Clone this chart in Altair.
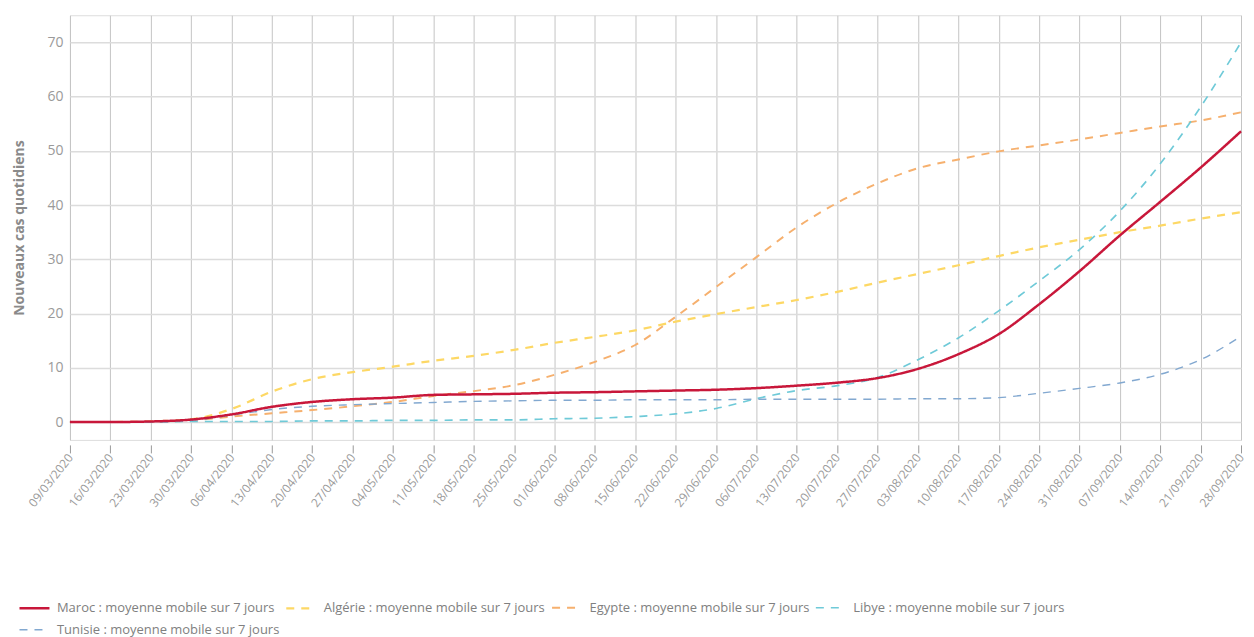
import altair as alt
import pandas as pd

dates = ["09/03/2020","16/03/2020","23/03/2020","30/03/2020","06/04/2020","13/04/2020",
         "20/04/2020","27/04/2020","04/05/2020","11/05/2020","18/05/2020","25/05/2020",
         "01/06/2020","08/06/2020","15/06/2020","22/06/2020","29/06/2020","06/07/2020",
         "13/07/2020","20/07/2020","27/07/2020","03/08/2020","10/08/2020","17/08/2020",
         "24/08/2020","31/08/2020","07/09/2020","14/09/2020","21/09/2020","28/09/2020"]

maroc = [0, 0, 0.1, 0.45, 1.4, 2.8, 3.7, 4.2, 4.5, 5.0, 5.1, 5.2, 5.4, 5.5, 5.65, 5.8,
         5.95, 6.25, 6.7, 7.25, 8.1, 9.8, 12.5, 16.2, 21.7, 27.8, 34.4, 40.6, 46.9, 53.6]
algerie = [0, 0, 0.1, 0.5, 2.4, 5.6, 7.9, 9.2, 10.2, 11.3, 12.2, 13.3, 14.6, 15.7, 16.9,
           18.5, 19.9, 21.2, 22.5, 24.0, 25.7, 27.3, 28.9, 30.6, 32.2, 33.6, 35.0, 36.2, 37.5, 38.7]
egypte = [0, 0, 0, 0.3, 1.0, 1.6, 2.2, 2.9, 3.7, 4.8, 5.7, 6.8, 8.7, 11.1, 14.2, 19.4,
          24.9, 30.4, 35.9, 40.4, 44.0, 46.8, 48.4, 49.9, 51.0, 52.1, 53.3, 54.5, 55.6, 57.1]
libye = [0, 0, 0, 0.1, 0.1, 0.1, 0.2, 0.2, 0.3, 0.3, 0.4, 0.4, 0.6, 0.7, 1.0, 1.5,
         2.5, 4.3, 5.8, 6.7, 8.2, 11.5, 15.5, 20.5, 26.0, 31.8, 38.9, 47.6, 58.1, 70.0]
tunisie = [0, 0, 0, 0.3, 1.25, 2.3, 2.9, 3.2, 3.4, 3.6, 3.8, 3.9, 4.0, 4.0, 4.1, 4.1,
           4.1, 4.2, 4.2, 4.2, 4.2, 4.3, 4.3, 4.5, 5.3, 6.2, 7.2, 8.8, 11.5, 15.8]

series_names = ["Maroc : moyenne mobile sur 7 jours",
                "Algérie : moyenne mobile sur 7 jours",
                "Egypte : moyenne mobile sur 7 jours",
                "Libye : moyenne mobile sur 7 jours",
                "Tunisie : moyenne mobile sur 7 jours"]
series_values = [maroc, algerie, egypte, libye, tunisie]
colors = ["#c8173a", "#fdd865", "#f6b06e", "#6fcad8", "#82a8d0"]
dashes = [[1, 0], [8, 7], [8, 7], [8, 7], [8, 7]]
widths = [2.5, 1.4, 1.4, 1.4, 1.4]

rows = []
for name, vals in zip(series_names, series_values):
    for d, v in zip(dates, vals):
        rows.append({"date": d, "serie": name, "value": v})
df = pd.DataFrame(rows)

color_scale = alt.Scale(domain=series_names, range=colors)
dash_scale = alt.Scale(domain=series_names, range=dashes)

x_enc = alt.X("date:N", sort=dates, scale=alt.Scale(padding=0),
              axis=alt.Axis(title=None, labelAngle=308, grid=True, gridColor="#c4c4c4",
                            gridWidth=1, ticks=True, tickColor="#999", tickSize=8,
                            offset=5, domain=False, labelFontSize=12, labelColor="#9a9a9a",
                            labelPadding=2))
y_enc = alt.Y("value:Q", scale=alt.Scale(domain=[-3.3, 75], nice=False, zero=False),
              axis=alt.Axis(title="Nouveaux cas quotidiens", values=[0, 10, 20, 30, 40, 50, 60, 70],
                            ticks=False, domain=False, gridColor="#dcdcdc", gridWidth=1.5,
                            labelFontSize=14, labelColor="#9a9a9a", labelPadding=7,
                            titleFontSize=14, titleColor="#8a8a8a", titleFontWeight="bold",
                            titlePadding=20))

legend = alt.Legend(title=None, orient="none", legendX=-52, legendY=577, direction="horizontal",
                    columns=4, gridAlign="none", symbolType="stroke", symbolSize=900,
                    symbolStrokeWidth=2, labelFontSize=13, labelColor="#808080",
                    labelLimit=400, columnPadding=2, rowPadding=-2, labelOffset=6, padding=0)

base = alt.Chart(df).encode(
    x=x_enc,
    y=y_enc,
    color=alt.Color("serie:N", scale=color_scale, legend=legend),
    strokeDash=alt.StrokeDash("serie:N", scale=dash_scale, legend=legend),
    strokeWidth=alt.StrokeWidth("serie:N", scale=alt.Scale(domain=series_names, range=widths), legend=None),
)

others = base.transform_filter(alt.datum.serie != series_names[0]).mark_line(interpolate="monotone")
main = base.transform_filter(alt.datum.serie == series_names[0]).mark_line(interpolate="monotone")

chart = alt.layer(others, main).properties(
    width=1172, height=425,
    padding={"left": 4, "right": 0, "top": 7, "bottom": 0}
).configure_view(stroke=None).configure(font="Open Sans")

chart.save("out.html", embed_options={"renderer": "svg", "actions": False})
